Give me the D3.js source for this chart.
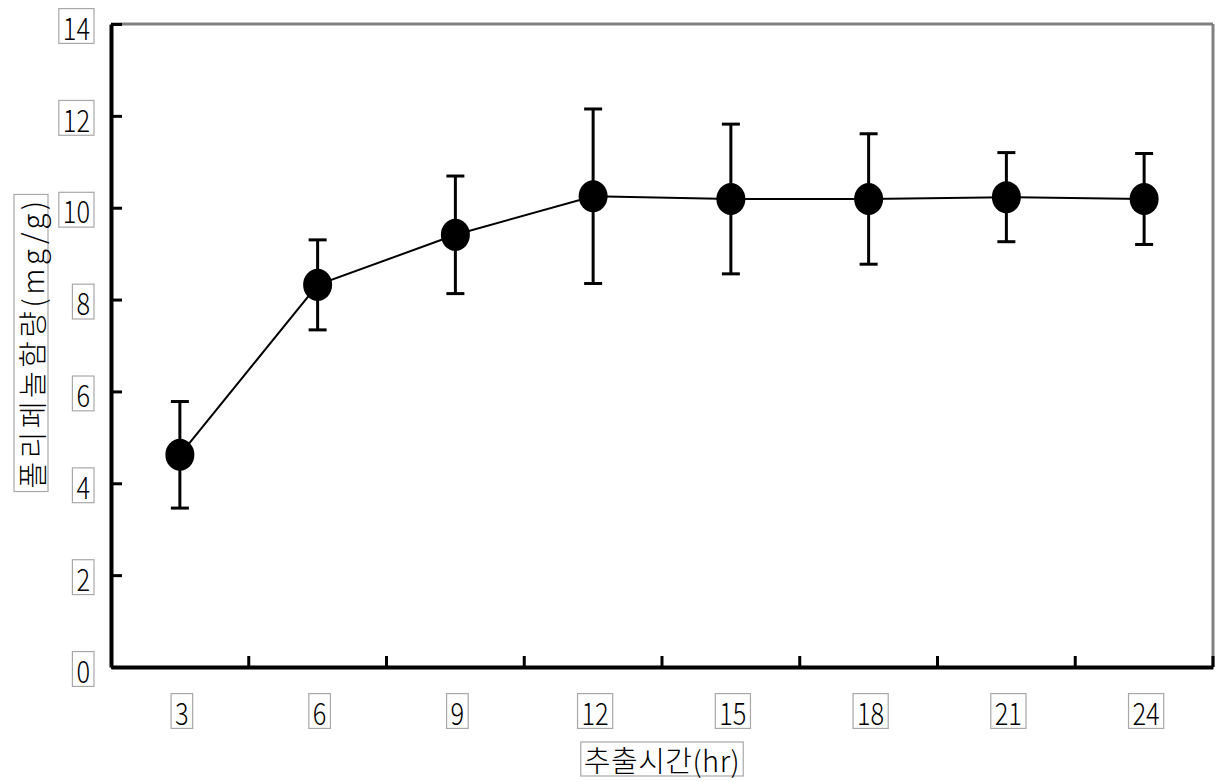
<!DOCTYPE html>
<html><head><meta charset="utf-8">
<script src="https://cdn.jsdelivr.net/npm/d3@7"></script>
<style>body{margin:0;background:#fff}svg{display:block}</style>
</head><body><svg id="c" width="1222" height="782"></svg>
<script>
const hours = ["3","6","9","12","15","18","21","24"];
const means = [4.62, 8.32, 9.41, 10.25, 10.19, 10.19, 10.23, 10.19];
const errs  = [1.16, 0.98, 1.28, 1.90, 1.63, 1.42, 0.97, 0.99];
const yTicks = [0,2,4,6,8,10,12,14];
const xTitle = "추출시간(hr)";
const yTitle = "폴리페놀함량(mg/g)";

const svg = d3.select("#c");
const L=111, R=1213, T=24, B=667;
const x = d3.scaleBand().domain(hours).range([L,R]);
const y = d3.scaleLinear().domain([0,14]).range([B,T]);
const font = "'Noto Sans CJK KR', 'Noto Sans', sans-serif";

svg.append("line").attr("x1",L).attr("x2",R).attr("y1",T).attr("y2",T).attr("stroke","#808080").attr("stroke-width",3);
svg.append("line").attr("x1",R).attr("x2",R).attr("y1",T).attr("y2",B).attr("stroke","#808080").attr("stroke-width",3);

const yAx = svg.append("g").attr("transform",`translate(${L},0)`)
  .call(d3.axisLeft(y).tickValues(yTicks).tickSize(-11).tickSizeOuter(0).tickFormat(d3.format("d")));
yAx.select(".domain").attr("stroke","#000").attr("stroke-width",4);
yAx.selectAll(".tick line").attr("stroke","#000").attr("stroke-width",3);
yAx.selectAll(".tick text").remove();

const xAx = svg.append("g").attr("transform",`translate(0,${B})`)
  .call(d3.axisBottom(x).tickSize(0).tickSizeOuter(0));
xAx.select(".domain").attr("stroke","#000").attr("stroke-width",4);
xAx.selectAll(".tick line").remove();
xAx.selectAll(".tick text").remove();
svg.append("g").selectAll("line").data(hours).join("line")
  .attr("x1",d=>x(d)+x.bandwidth()).attr("x2",d=>x(d)+x.bandwidth())
  .attr("y1",B).attr("y2",B-11).attr("stroke","#000").attr("stroke-width",3);

function boxedText(g, tx, ty, txt, size, rot, sx, ls, padX, padY, anchor){
  const gg = g.append("g").attr("transform",`translate(${tx},${ty})${rot?` rotate(${rot})`:""}`);
  const inner = gg.append("g").attr("transform",`scale(${sx},1)`);
  const t = inner.append("text").text(txt).attr("font-family",font).attr("font-size",size)
    .attr("font-weight",300).attr("letter-spacing",ls)
    .attr("text-anchor","middle").attr("dominant-baseline","central").attr("fill","#000");
  const bb = t.node().getBBox();
  const w = bb.width*sx, h = bb.height;
  let dx = 0;
  if (anchor==="end") { dx = -w/2 - padX; inner.attr("transform",`translate(${dx},0) scale(${sx},1)`); }
  gg.insert("rect",":first-child").attr("x",dx-w/2-padX).attr("y",bb.y-padY)
    .attr("width",w+2*padX).attr("height",h+2*padY)
    .attr("fill","none").attr("stroke","#a8a8a8").attr("stroke-width",1.2);
  return gg;
}

const lab = svg.append("g");
yTicks.forEach(v=>{
  boxedText(lab, 94, y(v)+2, String(v), 31, 0, 0.82, 0, 4, -5, "end");
});
hours.forEach(h=>{
  boxedText(lab, x(h)+x.bandwidth()/2+2, 711, h, 31, 0, 0.82, 0, 4, -5);
});
boxedText(lab, 662, 759, xTitle, 29, 0, 1, 0.5, 3, -4);
boxedText(lab, 31, 343, yTitle, 29, -90, 1, 3.5, 3, -4);

const pts = hours.map((h,i)=>({h, m:means[i], e:errs[i]}));
svg.append("path").datum(pts)
  .attr("d", d3.line().x(d=>x(d.h)+x.bandwidth()/2).y(d=>y(d.m)))
  .attr("fill","none").attr("stroke","#000").attr("stroke-width",2);

const eb = svg.append("g").attr("stroke","#000").attr("stroke-width",3);
pts.forEach(d=>{
  const cx = x(d.h)+x.bandwidth()/2;
  eb.append("line").attr("x1",cx).attr("x2",cx).attr("y1",y(d.m+d.e)).attr("y2",y(d.m-d.e));
  [d.m+d.e, d.m-d.e].forEach(v=>{
    eb.append("line").attr("x1",cx-9).attr("x2",cx+9).attr("y1",y(v)).attr("y2",y(v));
  });
});

svg.append("g").selectAll("ellipse").data(pts).join("ellipse")
  .attr("cx",d=>x(d.h)+x.bandwidth()/2).attr("cy",d=>y(d.m))
  .attr("rx",14.5).attr("ry",16).attr("fill","#000");
</script></body></html>
